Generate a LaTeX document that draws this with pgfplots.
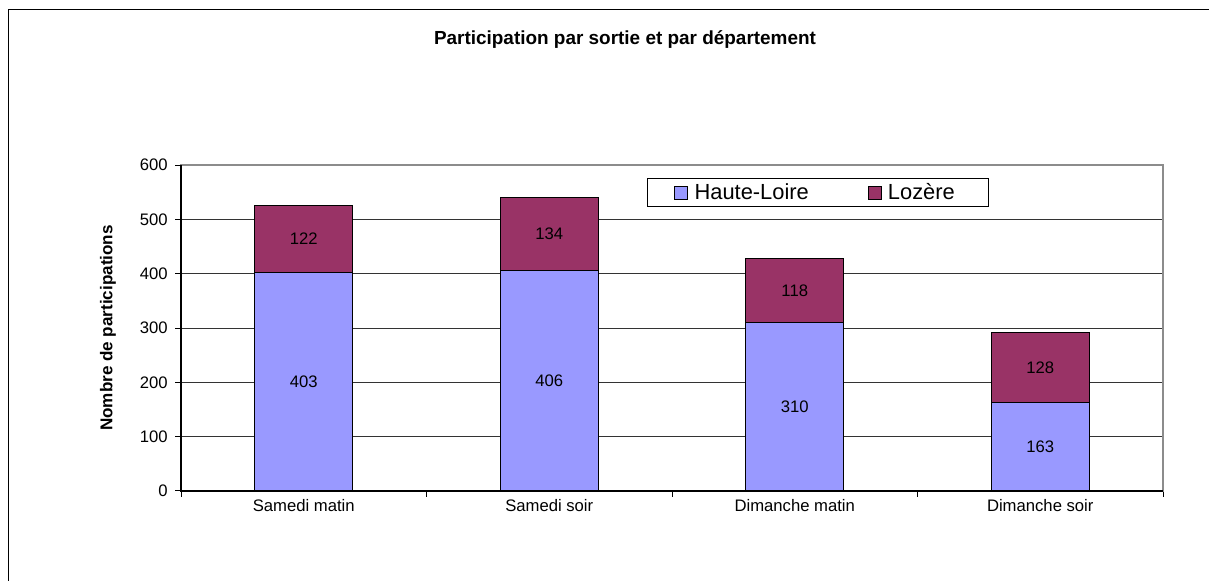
\documentclass[border=0pt]{standalone}
\usepackage{pgfplots}
\pgfplotsset{compat=1.18}
\usepackage{fontspec}
\setmainfont{Liberation Sans}
\definecolor{hl}{HTML}{9999FF}
\definecolor{lz}{HTML}{993366}
\begin{document}
\begin{tikzpicture}
\path[use as bounding box] (0,0) rectangle (906.75pt,435.75pt);
\draw[line width=1.3pt] (6.4pt,0) -- (6.4pt,428.6pt) -- (906.75pt,428.6pt);
\node[font=\fontsize{14.2}{16}\selectfont\bfseries] at (468.75pt,405.75pt) {Participation par sortie et par département};
\begin{axis}[
  at={(135.75pt,67.5pt)}, anchor=south west,
  width=736.5pt, height=244.5pt, scale only axis,
  ybar stacked, bar width=73.5pt,
  xmin=-0.5, xmax=3.5, ymin=0, ymax=600,
  ytick={0,100,...,600},
  xtick={-0.5,0.5,1.5,2.5,3.5}, xticklabels={},
  extra x ticks={0,1,2,3},
  extra x tick labels={Samedi matin, Samedi soir, Dimanche matin, Dimanche soir},
  extra x tick style={major tick length=0pt, tick style={draw=none}, xticklabel style={yshift=-2.5pt}},
  xtick pos=bottom, ytick pos=left,
  tick align=outside, major tick length=4.5pt,
  tick style={black, line width=0.75pt},
  ymajorgrids, grid style={black!80, line width=0.75pt},
  axis line style={draw=black!45, line width=0.9pt},
  /pgf/number format/assume math mode=true,
  ticklabel style={font=\fontsize{12.5}{15}\selectfont},
  yticklabel style={xshift=-2pt},
  ylabel={Nombre de participations},
  ylabel style={font=\fontsize{12.8}{15}\selectfont\bfseries, at={(axis description cs:-0.0743,0.5)}, anchor=center},
  clip=false,
  every axis plot post/.append style={legend image code/.code={\draw[##1, draw=black, line width=0.6pt] (0pt,-4.875pt) rectangle (9.75pt,4.875pt);}},
  legend columns=2,
  legend style={at={(axis description cs:0.4745,0.960)}, anchor=north west,
    draw=black, line width=0.75pt, font=\fontsize{16.4}{18}\selectfont,
    inner xsep=20pt, inner ysep=2.2pt, nodes={inner ysep=1.5pt, inner xsep=5pt},
    /tikz/every even column/.append style={column sep=39pt}},
  legend cell align=left,
]
\addplot[fill=hl, draw=black, line width=0.75pt] coordinates {(0,403) (1,406) (2,310) (3,163)};
\addplot[fill=lz, draw=black, line width=0.75pt] coordinates {(0,122) (1,134) (2,118) (3,128)};
\legend{Haute-Loire, Lozère}
\draw[black, line width=0.9pt] (rel axis cs:0,1) -- (rel axis cs:0,0) -- (rel axis cs:1,0);
\end{axis}
\begin{axis}[
  at={(135.75pt,67.5pt)}, anchor=south west,
  width=736.5pt, height=244.5pt, scale only axis,
  xmin=-0.5, xmax=3.5, ymin=0, ymax=600,
  hide axis, clip=false,
]
\addplot[draw=none, mark=none, nodes near coords, point meta=explicit symbolic,
  every node near coord/.append style={anchor=center, font=\fontsize{12.5}{15}\selectfont}]
  coordinates {(0,201.5) [403] (1,203) [406] (2,155) [310] (3,81.5) [163]
               (0,464) [122] (1,473) [134] (2,369) [118] (3,227) [128]};
\end{axis}
\end{tikzpicture}
\end{document}
